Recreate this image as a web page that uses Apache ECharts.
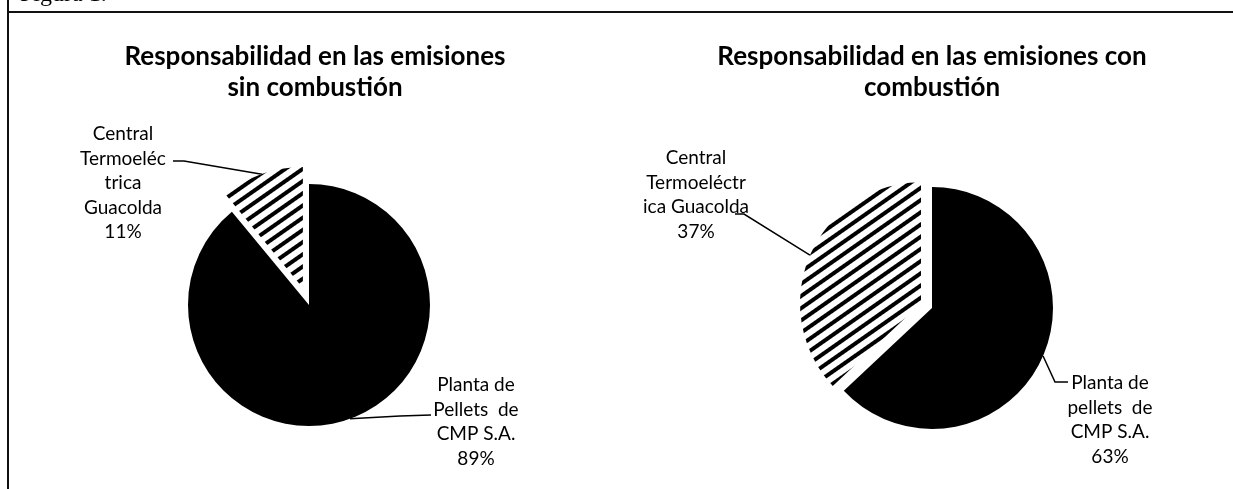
<!DOCTYPE html>
<html>
<head>
<meta charset="utf-8">
<script src="https://cdn.jsdelivr.net/npm/echarts@6/dist/echarts.min.js"></script>
<style>
html,body{margin:0;padding:0;background:#fff;}
#c{width:1233px;height:489px;}
</style>
</head>
<body>
<div id="c"></div>
<script>
// ---- data ----
const titles = ['Responsabilidad en las emisiones\nsin combustión', 'Responsabilidad en las emisiones con\ncombustión'];
const categoriesSin = ['Planta de\nPellets  de\nCMP S.A.', 'Central\nTermoeléc\ntrica\nGuacolda'];
const valuesSin = [89, 11];
const categoriesCon = ['Planta de\npellets  de\nCMP S.A.', 'Central\nTermoeléctr\nica Guacolda'];
const valuesCon = [63, 37];

const FONT = 'Lato';
const chart = echarts.init(document.getElementById('c'), null, {renderer: 'canvas'});

const hatch = {
  color: '#ffffff',
  decal: {
    symbol: 'rect', symbolSize: 1, color: '#000000',
    dashArrayX: [1, 0], dashArrayY: [4, 6],
    rotation: -Math.PI * 35 / 180
  }
};
const hidden = {color: 'rgba(0,0,0,0)'};

// label anchors (layout): label centre, line end, kink
const anchorsSin = [
  {x: 476, y: 422, lx: 431, ly: 415, kx: 400, ky: 416},
  {x: 123, y: 183, lx: 173, ly: 161, kx: 184, ky: 161}
];
const anchorsCon = [
  {x: 696, y: 195, lx: 735, ly: 214, kx: 744, ky: 214},
  {x: 1110, y: 420, lx: 1068, ly: 382, kx: 1055, ky: 382}
];
// order of anchors must follow data order
anchorsCon.reverse();

function makeLayout(anchors) {
  return function (params) {
    const a = anchors[params.dataIndex];
    const pts = params.labelLinePoints;
    const start = pts ? pts[0] : [a.kx, a.ky];
    return {
      x: a.x, y: a.y, align: 'center', verticalAlign: 'middle',
      labelLinePoints: [start, [a.kx, a.ky], [a.lx, a.ly]]
    };
  };
}

// shift of the exploded (second) slice along its bisector
function explodedCenter(vals, center, offset) {
  const total = vals.reduce((s, v) => s + v, 0);
  const startFrac = vals[0] / total;
  const midFrac = startFrac + vals[1] / total / 2;
  const ang = midFrac * 2 * Math.PI; // clockwise from top
  return [center[0] + Math.sin(ang) * offset, center[1] - Math.cos(ang) * offset];
}

function pieSeries(cats, vals, center, visibleIdx, anchors) {
  return {
    type: 'pie',
    center: center,
    radius: 121,
    startAngle: 90,
    clockwise: true,
    silent: true,
    animation: false,
    avoidLabelOverlap: false,
    label: {
      show: true, position: 'outside',
      formatter: '{b}\n{d}%',
      color: '#000', fontFamily: FONT, fontSize: 19, lineHeight: 24.5,
      align: 'center'
    },
    labelLine: {show: true, lineStyle: {color: '#000', width: 1.5}},
    labelLayout: makeLayout(anchors),
    emphasis: {disabled: true},
    data: cats.map((c, i) => ({
      name: c, value: vals[i],
      itemStyle: i !== visibleIdx ? hidden : (i === 0 ? {color: '#000000'} : hatch),
      label: {show: i === visibleIdx},
      labelLine: {show: i === visibleIdx}
    }))
  };
}

const centerSin = [309, 305];
const centerCon = [932, 308];

chart.setOption({
  backgroundColor: '#ffffff',
  title: [
    {text: titles[0], left: 310, top: 36, textAlign: 'center',
     textStyle: {fontFamily: FONT, fontWeight: 'bold', fontSize: 26, lineHeight: 31, color: '#000'}},
    {text: titles[1], left: 927, top: 36, textAlign: 'center',
     textStyle: {fontFamily: FONT, fontWeight: 'bold', fontSize: 26, lineHeight: 31, color: '#000'}}
  ],
  graphic: [
    {type: 'line', shape: {x1: 8, y1: 0, x2: 8, y2: 489}, style: {stroke: '#111', lineWidth: 2}, z: 10, silent: true},
    {type: 'line', shape: {x1: 7, y1: 12, x2: 1233, y2: 12}, style: {stroke: '#111', lineWidth: 2}, z: 10, silent: true},
    {type: 'text', left: 20, top: -17, style: {text: 'Figura 1.', font: '24px "Liberation Serif"', fill: '#000'}, silent: true}
  ],
  series: [
    pieSeries(categoriesSin, valuesSin, centerSin, 0, anchorsSin),
    pieSeries(categoriesSin, valuesSin, explodedCenter(valuesSin, centerSin, 18), 1, anchorsSin),
    pieSeries(categoriesCon, valuesCon, centerCon, 0, anchorsCon),
    pieSeries(categoriesCon, valuesCon, explodedCenter(valuesCon, centerCon, 12), 1, anchorsCon)
  ]
});
</script>
</body>
</html>
